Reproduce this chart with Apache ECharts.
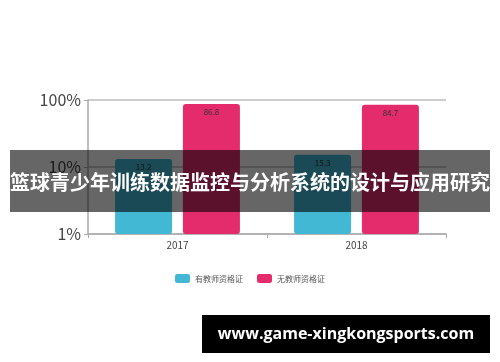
<!DOCTYPE html>
<html><head><meta charset="utf-8">
<script src="https://cdn.jsdelivr.net/npm/echarts@6/dist/echarts.min.js"></script>
<style>html,body{margin:0;padding:0;background:#fff}#c{width:500px;height:362px}</style>
</head><body><div id="c"></div>
<script>
var categories = ['2017', '2018'];
var withCert = [13.2, 15.3];
var withoutCert = [86.8, 84.7];
var seriesNames = ['有教师资格证', '无教师资格证'];
var yTicks = [1, 10, 100];
var bannerText = '篮球青少年训练数据监控与分析系统的设计与应用研究';
var siteText = 'www.game-xingkongsports.com';

var chart = echarts.init(document.getElementById('c'), null, {renderer: 'canvas'});
var font = '"Noto Sans CJK SC", "Noto Sans", sans-serif';
chart.setOption({
  animation: false,
  textStyle: {fontFamily: font},
  grid: {left: 88, right: 54, top: 100, bottom: 128, containLabel: false},
  legend: {
    data: seriesNames, bottom: 74, left: 'center', itemWidth: 15, itemHeight: 9, itemGap: 14,
    icon: 'roundRect',
    textStyle: {fontSize: 8, color: '#555', fontFamily: font}
  },
  xAxis: {
    type: 'category', data: categories,
    axisLine: {lineStyle: {color: '#aaa', width: 1.5}},
    axisTick: {show: true, lineStyle: {color: '#aaa'}, length: 4},
    axisLabel: {fontSize: 10, color: '#444', margin: 6}
  },
  yAxis: {
    type: 'log', logBase: 10, min: 1, max: 100,
    axisLine: {show: true, lineStyle: {color: '#aaa', width: 1.5}},
    axisTick: {show: true, lineStyle: {color: '#aaa'}, length: 4},
    splitLine: {show: true, lineStyle: {color: '#bbb', width: 1.5}},
    axisLabel: {fontSize: 16, color: '#444', margin: 7, formatter: function(v){ return yTicks.indexOf(v) >= 0 ? v + '%' : ''; }}
  },
  series: [
    {name: seriesNames[0], type: 'bar', data: withCert, barWidth: 57, barGap: '19%',
     itemStyle: {color: '#42b8d5', borderRadius: 3},
     label: {show: true, position: 'insideTop', fontSize: 8, color: '#333', distance: 4}},
    {name: seriesNames[1], type: 'bar', data: withoutCert, barWidth: 57,
     itemStyle: {color: '#e42c6d', borderRadius: 3},
     label: {show: true, position: 'insideTop', fontSize: 8, color: '#333', distance: 4}}
  ],
  graphic: [
    {type: 'rect', shape: {x: 10, y: 150, width: 480, height: 62}, style: {fill: 'rgba(0,0,0,0.6)'}, z: 100},
    {type: 'text', x: 250, y: 182, z: 101, style: {text: bannerText, fill: '#fff', font: 'bold 20px ' + font, textAlign: 'center', textVerticalAlign: 'middle'}},
    {type: 'rect', shape: {x: 202, y: 315, width: 288, height: 38}, style: {fill: '#000'}, z: 100},
    {type: 'text', x: 346, y: 334, z: 101, style: {text: siteText, fill: '#fff', font: 'bold 16px "Open Sans", "DejaVu Sans", sans-serif', textAlign: 'center', textVerticalAlign: 'middle'}}
  ]
});
</script></body></html>
